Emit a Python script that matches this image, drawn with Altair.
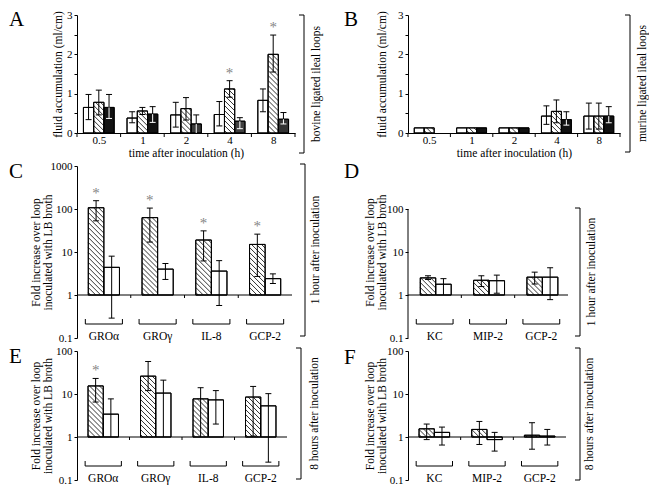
import math
import altair as alt
import pandas as pd

FONT = "Liberation Serif"

# ---------------- values ----------------
times = ["0.5", "1", "2", "4", "8"]

A_white = [0.65, 0.38, 0.46, 0.47, 0.83]
A_white_lo = [0.34, 0.26, 0.15, 0.18, 0.54]
A_white_hi = [0.98, 0.54, 0.78, 0.80, 1.12]
A_hatch = [0.78, 0.56, 0.62, 1.12, 2.00]
A_hatch_lo = [0.46, 0.47, 0.33, 0.91, 1.55]
A_hatch_hi = [1.09, 0.65, 0.90, 1.33, 2.49]
A_dark = [0.65, 0.48, 0.23, 0.30, 0.35]
A_dark_lo = [0.37, 0.27, 0.00, 0.11, 0.23]
A_dark_hi = [0.98, 0.67, 0.46, 0.39, 0.52]
A_star = [False, False, False, True, True]

B_white = [0.13, 0.13, 0.13, 0.43, 0.43]
B_white_lo = [None, None, None, 0.22, 0.10]
B_white_hi = [None, None, None, 0.69, 0.76]
B_hatch = [0.13, 0.13, 0.13, 0.55, 0.43]
B_hatch_lo = [None, None, None, 0.26, 0.10]
B_hatch_hi = [None, None, None, 0.84, 0.76]
B_dark = [None, 0.13, 0.13, 0.34, 0.43]
B_dark_lo = [None, None, None, 0.20, 0.26]
B_dark_hi = [None, None, None, 0.54, 0.67]

human = ["GROα", "GROγ", "IL-8", "GCP-2"]
murine = ["KC", "MIP-2", "GCP-2"]

C_hatch = [107, 63, 19, 15]
C_hatch_lo = [53, 17, 6.2, 2.7]
C_hatch_hi = [156, 105, 31, 26]
C_white = [4.4, 4.0, 3.6, 2.4]
C_white_lo = [0.29, 2.3, 0.57, 1.85]
C_white_hi = [8.0, 5.4, 6.3, 3.1]
C_star = [True, True, True, True]

D_hatch = [2.5, 2.2, 2.6]
D_hatch_lo = [2.3, 1.57, 1.8]
D_hatch_hi = [2.8, 2.8, 3.4]
D_white = [1.78, 2.15, 2.6]
D_white_lo = [1.0, 1.1, 0.78]
D_white_hi = [2.4, 2.9, 4.3]

E_hatch = [15.4, 26, 7.7, 8.5]
E_hatch_lo = [6.5, 12, 1.0, 1.05]
E_hatch_hi = [23, 57, 14, 15]
E_white = [3.4, 10.5, 7.3, 5.3]
E_white_lo = [1.0, 1.0, 2.0, 0.26]
E_white_hi = [7.7, 21, 12, 10.2]
E_star = [True, False, False, False]

F_hatch = [1.55, 1.5, 1.1]
F_hatch_lo = [0.87, 0.67, 0.52]
F_hatch_hi = [2.0, 2.3, 2.15]
F_white = [1.28, 0.87, 1.05]
F_white_lo = [0.65, 0.47, 0.65]
F_white_hi = [1.7, 1.28, 1.5]

# ---------------- styles ----------------
DARK_A = ["#121212", "#121212", "#3a3a3a", "#404040", "#333333"]
DARK_B = "#111111"
STAR_COLOR = "#858585"


def hatch_segments(x0, x1, ya, yb, step=5.0):
    yt, ybt = min(ya, yb), max(ya, yb)
    segs = []
    c = ybt - x0 - step / 2.0
    cmin = yt - x1
    while c > cmin:
        xa = max(x0, yt - c)
        xb = min(x1, ybt - c)
        if xb - xa > 0.4:
            segs.append((xa, xa + c, xb, xb + c))
        c -= step
    return segs


def dummy():
    return pd.DataFrame({"d": [0]})


def build_panel(cfg):
    W, H = cfg["W"], cfg["H"]
    cats = cfg["cats"]
    N = len(cats)
    log = cfg["log"]
    lo_d, hi_d = cfg["ydom"]
    if log:
        L0, L1 = math.log10(lo_d), math.log10(hi_d)
        fy = lambda v: H - (math.log10(v) - L0) / (L1 - L0) * H
        fyi = lambda p: 10 ** (L0 + (H - p) / H * (L1 - L0))
        base = 1.0
        ys = alt.Scale(type="log", domain=[lo_d, hi_d], nice=False)
    else:
        fy = lambda v: H - (v - lo_d) / (hi_d - lo_d) * H
        fyi = lambda p: lo_d + (H - p) / H * (hi_d - lo_d)
        base = 0.0
        ys = alt.Scale(domain=[lo_d, hi_d], nice=False, zero=False)
    xs = alt.Scale(domain=[0, N], nice=False, zero=False)
    fx = lambda d: d / N * W
    fxi = lambda p: p / W * N

    series = cfg["series"]
    nb = len(series)
    bw = cfg["bw"]
    capw = fxi(3.0)
    rects, hatch, errs, caps, stars = [], [], [], [], []
    for j, s in enumerate(series):
        for i in range(N):
            v = s["v"][i]
            if v is None:
                continue
            x0 = i + 0.5 - nb * bw / 2 + j * bw + cfg.get("shift", 0)
            x1 = x0 + bw
            fill = s["fill"][i] if isinstance(s["fill"], list) else s["fill"]
            rects.append(dict(x=x0, x2=x1, y=v, y2=base, fill=fill))
            if s["kind"] == "hatch":
                for sg in hatch_segments(fx(x0), fx(x1), fy(v), fy(base)):
                    hatch.append(dict(x=fxi(sg[0]), x2=fxi(sg[2]), y=fyi(sg[1]), y2=fyi(sg[3])))
            lo, hi = s["lo"][i], s["hi"][i]
            xc = x0 + bw / 2
            if lo is not None and hi is not None:
                if s["kind"] == "dark":
                    errs.append(dict(x=xc, y=v, y2=hi, c="black"))
                    errs.append(dict(x=xc, y=lo, y2=v, c="white"))
                    caps.append(dict(x=xc - capw, x2=xc + capw, y=hi, c="black"))
                    if lo > base:
                        caps.append(dict(x=xc - capw, x2=xc + capw, y=lo, c="white"))
                else:
                    errs.append(dict(x=xc, y=lo, y2=hi, c="black"))
                    caps.append(dict(x=xc - capw, x2=xc + capw, y=hi, c="black"))
                    if abs(lo - base) > 1e-9:
                        caps.append(dict(x=xc - capw, x2=xc + capw, y=lo, c="black"))
            if s.get("star") and s["star"][i]:
                stars.append(dict(x=xc, y=hi))

    # axes
    if log:
        yaxis = alt.Axis(values=cfg["yvals"], format="~g", tickSize=3, labelPadding=2,
                         title=cfg["ytitle"], titleX=cfg["titleX"], titleAngle=-90,
                         titleAlign="center", titleBaseline="middle", titleLineHeight=12,
                         domain=cfg.get("ydomainline", True))
        xaxis = alt.Axis(values=[0], labels=False, ticks=False, domain=False, title=None)
    else:
        yaxis = alt.Axis(values=cfg["yvals"],
                         labelExpr="datum.value % 1 == 0 ? format(datum.value, 'd') : ''",
                         tickSize=3, labelPadding=2, title=cfg["ytitle"], titleX=cfg["titleX"],
                         titleAngle=-90, titleAlign="center", titleBaseline="middle")
        expr = ""
        for i, t in enumerate(cats):
            expr += "datum.value < %d ? '%s' : " % (i + 1, t)
        expr += "''"
        xaxis = alt.Axis(values=[i + 0.5 for i in range(N)], labelExpr=expr, ticks=False,
                         tickSize=0, labelPadding=7, labelBaseline="middle",
                         title=cfg["xtitle"], titleY=20, titleBaseline="middle")

    def X():
        return alt.X("x:Q", scale=xs, axis=xaxis)

    def Y():
        return alt.Y("y:Q", scale=ys, axis=yaxis)

    layers = []
    layers.append(alt.Chart(pd.DataFrame(rects)).mark_rect(stroke="black", strokeWidth=1).encode(
        x=X(), x2="x2:Q", y=Y(), y2="y2:Q", fill=alt.Fill("fill:N", scale=None)))
    if hatch:
        layers.append(alt.Chart(pd.DataFrame(hatch)).mark_rule(color="black", strokeWidth=0.8).encode(
            x=X(), x2="x2:Q", y=Y(), y2="y2:Q"))
    layers.append(alt.Chart(pd.DataFrame(rects)).mark_rect(fill="transparent", stroke="black", strokeWidth=1).encode(
        x=X(), x2="x2:Q", y=Y(), y2="y2:Q"))
    if errs:
        layers.append(alt.Chart(pd.DataFrame(errs)).mark_rule(strokeWidth=1).encode(
            x=X(), y=Y(), y2="y2:Q", color=alt.Color("c:N", scale=None)))
    if caps:
        layers.append(alt.Chart(pd.DataFrame(caps)).mark_rule(strokeWidth=1).encode(
            x=X(), x2="x2:Q", y=Y(), color=alt.Color("c:N", scale=None)))
    if stars:
        layers.append(alt.Chart(pd.DataFrame(stars)).mark_text(
            text="*", font=FONT, fontSize=15, color=STAR_COLOR, baseline="middle", dy=-8).encode(
            x=X(), y=Y()))

    if log:
        # horizontal line at 1 with small ticks between groups
        layers.append(alt.Chart(pd.DataFrame([dict(x=0, x2=N, y=1.0)])).mark_rule(color="black", strokeWidth=1).encode(
            x=X(), x2="x2:Q", y=Y()))
        tk = [dict(x=k, y=1.0, y2=fyi(fy(1.0) + 3)) for k in range(1, N)]
        layers.append(alt.Chart(pd.DataFrame(tk)).mark_rule(color="black", strokeWidth=1).encode(
            x=X(), y=Y(), y2="y2:Q"))
        # group brackets and labels
        yb = fyi(H - 14)
        ybt = fyi(H - 19)
        br = []
        for i in range(N):
            a, b = i + 0.5 - 0.345, i + 0.5 + 0.345
            br.append(dict(x=a, x2=b, y=yb, y2=yb))
            br.append(dict(x=a, x2=a, y=yb, y2=ybt))
            br.append(dict(x=b, x2=b, y=yb, y2=ybt))
        layers.append(alt.Chart(pd.DataFrame(br)).mark_rule(color="black", strokeWidth=1).encode(
            x=X(), x2="x2:Q", y=Y(), y2="y2:Q"))
        gl = [dict(x=i + 0.5, y=fyi(H - 1), label=c) for i, c in enumerate(cats)]
        layers.append(alt.Chart(pd.DataFrame(gl)).mark_text(
            font=FONT, fontSize=11.5, baseline="middle", align="center", color="black").encode(
            x=X(), y=Y(), text="label:N"))
        if not cfg.get("ydomainline", True):
            layers.append(alt.Chart(pd.DataFrame([dict(x=0, y=lo_d, y2=cfg["yvals"][-1])])).mark_rule(
                color="black", strokeWidth=1).encode(x=X(), y=Y(), y2="y2:Q"))
    else:
        tk = [dict(x=k, y=0.0, y2=fyi(H + 4)) for k in range(0, N + 1)]
        layers.append(alt.Chart(pd.DataFrame(tk)).mark_rule(color="black", strokeWidth=1).encode(
            x=X(), y=Y(), y2="y2:Q"))

    # panel letter
    layers.append(alt.Chart(dummy()).mark_text(
        text=cfg["letter"], font=FONT, fontSize=21, align="left", baseline="middle", color="black").encode(
        x=alt.value(cfg["letter_x"]), y=alt.value(cfg["letter_y"])))
    # right bracket with its label
    bx = W + cfg["bdx"]
    bt = cfg["btop"]
    bb = cfg["bbot"]
    layers.append(alt.Chart(dummy()).mark_rule(color="black", strokeWidth=1).encode(
        x=alt.value(bx), y=alt.value(bt), y2=alt.value(bb)))
    layers.append(alt.Chart(dummy()).mark_rule(color="black", strokeWidth=1).encode(
        x=alt.value(bx - 5), x2=alt.value(bx), y=alt.value(bt)))
    layers.append(alt.Chart(dummy()).mark_rule(color="black", strokeWidth=1).encode(
        x=alt.value(bx - 5), x2=alt.value(bx), y=alt.value(bb)))
    layers.append(alt.Chart(dummy()).mark_text(
        text=cfg["btext"], font=FONT, fontSize=11.5, angle=270, align="center", baseline="middle",
        color="black").encode(x=alt.value(W + cfg["tdx"]), y=alt.value((bt + bb) / 2)))

    return alt.layer(*layers).properties(width=W, height=H)


H1 = 118
H2 = 172
H3 = 129

pA = build_panel(dict(
    letter="A", letter_x=-68, letter_y=5, W=218, H=H1, cats=times, log=False, ydom=[0, 3],
    yvals=[0, 0.5, 1, 1.5, 2, 2.5, 3], ytitle="fluid accumulation (ml/cm)", titleX=-19,
    xtitle="time after inoculation (h)", bw=0.235,
    series=[
        dict(kind="white", fill="white", v=A_white, lo=A_white_lo, hi=A_white_hi),
        dict(kind="hatch", fill="white", v=A_hatch, lo=A_hatch_lo, hi=A_hatch_hi, star=A_star),
        dict(kind="dark", fill=DARK_A, v=A_dark, lo=A_dark_lo, hi=A_dark_hi),
    ],
    bdx=9, tdx=22, btop=0, bbot=H1 + 20, btext="bovine ligated ileal loops"))

pB = build_panel(dict(
    letter="B", letter_x=-64, letter_y=5, W=212, H=H1, cats=times, log=False, ydom=[0, 3],
    yvals=[0, 0.5, 1, 1.5, 2, 2.5, 3], ytitle="fluid accumulation (ml/cm)", titleX=-26,
    xtitle="time after inoculation (h)", bw=0.235,
    series=[
        dict(kind="white", fill="white", v=B_white, lo=B_white_lo, hi=B_white_hi),
        dict(kind="hatch", fill="white", v=B_hatch, lo=B_hatch_lo, hi=B_hatch_hi),
        dict(kind="dark", fill=DARK_B, v=B_dark, lo=B_dark_lo, hi=B_dark_hi),
    ],
    bdx=10, tdx=23, btop=0, bbot=H1 + 19, btext="murine ligated ileal loops"))

ytitle2 = ["Fold increase over loop", "inoculated with LB broth"]

pC = build_panel(dict(
    letter="C", letter_x=-68, letter_y=6, W=215, H=H2, cats=human, log=True, ydom=[0.1, 1000],
    yvals=[0.1, 1, 10, 100, 1000], ytitle=ytitle2, titleX=-41, bw=0.29,
    series=[
        dict(kind="hatch", fill="white", v=C_hatch, lo=C_hatch_lo, hi=C_hatch_hi, star=C_star),
        dict(kind="white", fill="white", v=C_white, lo=C_white_lo, hi=C_white_hi),
    ],
    bdx=13, tdx=24, btop=-2, bbot=H2 - 2, btext="1 hour after inoculation"))

pD = build_panel(dict(
    letter="D", letter_x=-64, letter_y=6, W=160, H=H2, cats=murine, log=True, ydom=[0.1, 1000],
    yvals=[0.1, 1, 10, 100], ytitle=ytitle2, titleX=-38, bw=0.29, ydomainline=False, shift=0.02,
    series=[
        dict(kind="hatch", fill="white", v=D_hatch, lo=D_hatch_lo, hi=D_hatch_hi),
        dict(kind="white", fill="white", v=D_white, lo=D_white_lo, hi=D_white_hi),
    ],
    bdx=12, tdx=24, btop=H2 / 4 - 1, bbot=H2 - 2, btext="1 hour after inoculation"))

pE = build_panel(dict(
    letter="E", letter_x=-68, letter_y=6, W=210, H=H3, cats=human, log=True, ydom=[0.1, 100],
    yvals=[0.1, 1, 10, 100], ytitle=ytitle2, titleX=-41, bw=0.29,
    series=[
        dict(kind="hatch", fill="white", v=E_hatch, lo=E_hatch_lo, hi=E_hatch_hi, star=E_star),
        dict(kind="white", fill="white", v=E_white, lo=E_white_lo, hi=E_white_hi),
    ],
    bdx=14, tdx=28, btop=-3, bbot=H3 - 1, btext="8 hours after inoculation"))

pF = build_panel(dict(
    letter="F", letter_x=-64, letter_y=7, W=158, H=H3, cats=murine, log=True, ydom=[0.1, 100],
    yvals=[0.1, 1, 10, 100], ytitle=ytitle2, titleX=-38, bw=0.29,
    series=[
        dict(kind="hatch", fill="white", v=F_hatch, lo=F_hatch_lo, hi=F_hatch_hi),
        dict(kind="white", fill="white", v=F_white, lo=F_white_lo, hi=F_white_hi),
    ],
    bdx=14, tdx=24, btop=-3, bbot=H3, btext="8 hours after inoculation"))

chart = alt.concat(
    pA, pB, pC, pD, pE, pF, columns=2, spacing={"row": 0, "column": 19}, align="each"
).properties(padding=0, background="white").configure_view(
    stroke="transparent"
).configure_axis(
    labelFont=FONT, titleFont=FONT, labelFontSize=11, titleFontSize=11.5,
    titleFontWeight="normal", labelColor="black", titleColor="black",
    domainColor="black", tickColor="black", grid=False, domainWidth=1, tickWidth=1,
)

chart.save("out.html", embed_options={"renderer": "svg", "actions": False})
